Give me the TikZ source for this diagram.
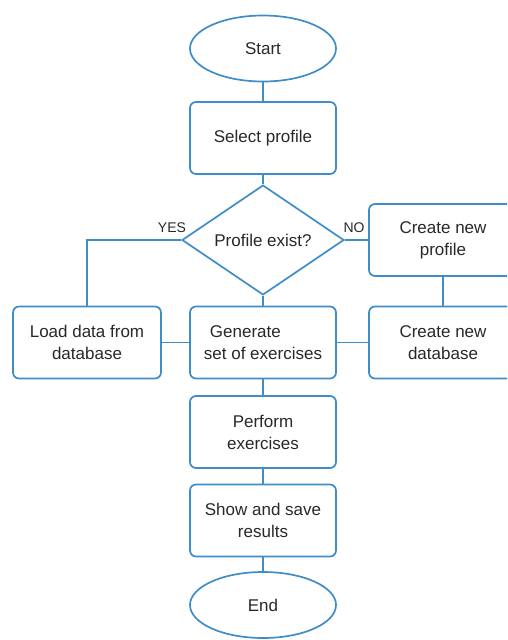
\documentclass[tikz,border=0pt]{standalone}
\usepackage{fontspec}
\setmainfont{Liberation Sans}
\usetikzlibrary{shapes.geometric}
\definecolor{fcblue}{RGB}{62,140,200}
\definecolor{fctext}{RGB}{40,40,40}
\tikzset{
  fc/.style={draw=fcblue, line width=1.7pt, text=fctext, font=\fontsize{17}{22}\selectfont, align=center, inner sep=0pt},
  box/.style={fc, rectangle, rounded corners=6pt, minimum width=146pt, minimum height=72pt},
  term/.style={fc, ellipse, minimum width=146pt, minimum height=66pt},
  dec/.style={fc, diamond, minimum width=162pt, minimum height=104pt},
  link/.style={draw=fcblue, line width=1.7pt},
  lbl/.style={text=fctext, font=\fontsize{14}{16}\selectfont, inner sep=0pt}
}
\begin{document}
\begin{tikzpicture}[x=1pt,y=-1pt]
\useasboundingbox (0,0) rectangle (507,640);
\clip (0,0) rectangle (507,640);
\node[term] (start) at (263,48.5) {Start};
\node[box] (sel) at (263,138) {Select profile};
\node[dec] (dec) at (263,240) {Profile exist?};
\node[box, minimum width=148pt] (newp) at (443,240) {Create new\\profile};
\node[box, minimum width=148pt] (load) at (87,342.5) {Load data from\\database};
\node[box] (gen) at (263,342.5) {};
\node[fc, draw=none, align=left] (gentxt) at (gen.center) {\hspace*{6pt}Generate\\set of exercises};
\node[box, minimum width=148pt] (newd) at (443,342.5) {Create new\\database};
\node[box] (perf) at (263,432) {Perform\\exercises};
\node[box] (show) at (263,520.5) {Show and save\\results};
\node[term] (end) at (263,605) {End};

\draw[link] (start) -- (sel);
\draw[link] (sel) -- (dec);
\draw[link] (dec) -- (gen);
\draw[link] (dec.west) -| (load.north);
\draw[link] (dec.east) -- (newp.west);
\draw[link] (newp) -- (newd);
\draw[link] (load) -- (gen);
\draw[link] (newd) -- (gen);
\draw[link] (gen) -- (perf);
\draw[link] (perf) -- (show);
\draw[link] (show) -- (end);

\node[lbl] (yes) at (172,228) {YES};
\node[lbl] (no) at (354,228) {NO};
\end{tikzpicture}
\end{document}
